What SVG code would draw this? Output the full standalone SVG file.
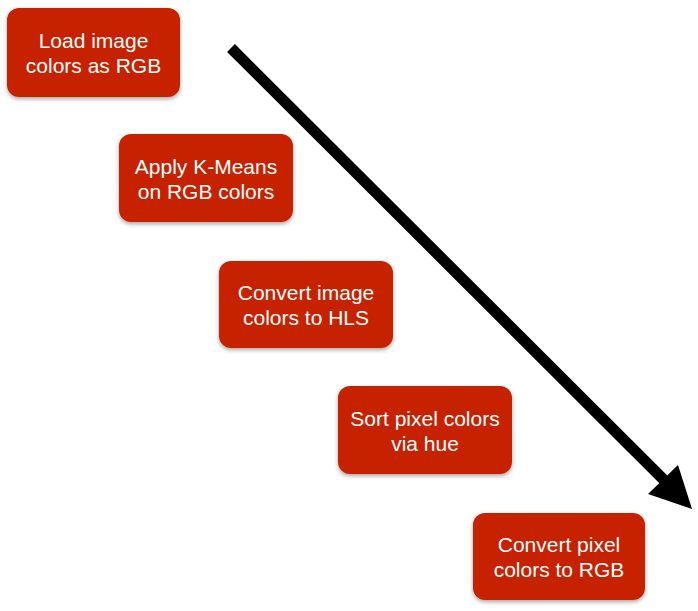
<svg xmlns="http://www.w3.org/2000/svg" width="698" height="611" viewBox="0 0 698 611">
<defs>
<filter id="sh" x="-10%" y="-10%" width="120%" height="130%">
<feDropShadow dx="0" dy="2" stdDeviation="2" flood-color="#000" flood-opacity="0.35"/>
</filter>
<style>
.box{fill:#C62300;filter:url(#sh)}
.t{font-family:"Liberation Sans",Arial,sans-serif;font-size:21px;fill:#fff;text-anchor:middle}
</style>
</defs>
<rect width="698" height="611" fill="#fff"/>
<g id="connectors">
<line x1="231" y1="48" x2="666" y2="482" stroke="#000" stroke-width="11"/>
<polygon points="692,509 678,465 648,494" fill="#000"/>
</g>
<g id="n1">
<rect class="box" x="7" y="8" width="173" height="89" rx="12"/>
<text class="t" x="93.5" y="47.5">Load image</text>
<text class="t" x="93.5" y="72.5">colors as RGB</text>
</g>
<g id="n2">
<rect class="box" x="119" y="134" width="174" height="88" rx="12"/>
<text class="t" x="206" y="173.5">Apply K-Means</text>
<text class="t" x="206" y="198.5">on RGB colors</text>
</g>
<g id="n3">
<rect class="box" x="219" y="261" width="174" height="87" rx="12"/>
<text class="t" x="306" y="299.5">Convert image</text>
<text class="t" x="306" y="324.5">colors to HLS</text>
</g>
<g id="n4">
<rect class="box" x="338" y="386" width="174" height="88" rx="12"/>
<text class="t" x="425" y="425.5">Sort pixel colors</text>
<text class="t" x="425" y="450.5">via hue</text>
</g>
<g id="n5">
<rect class="box" x="473" y="513" width="172" height="87" rx="12"/>
<text class="t" x="559" y="551.5">Convert pixel</text>
<text class="t" x="559" y="576.5">colors to RGB</text>
</g>
</svg>
